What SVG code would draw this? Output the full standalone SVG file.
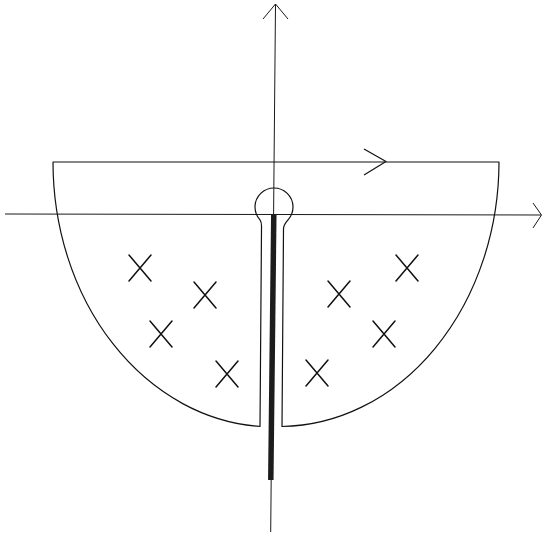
<svg xmlns="http://www.w3.org/2000/svg" width="542" height="534" viewBox="0 0 542 534">
<style>
.ax{fill:none;stroke:#1a1a1a;stroke-width:1}
.ol{fill:none;stroke:#111;stroke-width:1.2;stroke-linejoin:round}
.cr{fill:none;stroke:#111;stroke-width:1.5;stroke-linecap:round}
.cut{fill:none;stroke:#1c1c1c;stroke-width:5.5}
</style>
<rect width="542" height="534" fill="#fff"/>
<g id="axes">
<line class="ax" x1="5" y1="214" x2="541" y2="215"/>
<polyline class="ax" points="533,203 541.5,215 533,228"/>
<line class="ax" x1="275.5" y1="4" x2="270.7" y2="532"/>
<polyline class="ax" points="263,19 275.5,4 288,19"/>
</g>
<g id="contour">
<path class="ol" d="M 53 162 L 499 162 A 220 265 0 0 1 282 426.5 L 283.5 229 C 283.5 225 286 222.5 288 219.85 A 19 19 0 1 0 260 219.85 C 262 222.5 261.5 225 261.5 229 L 260 426.5 A 220 265 0 0 1 53 162 Z"/>
<polyline class="ol" points="364,149 386,161.5 364,175"/>
</g>
<g id="branch-cut">
<line class="cut" x1="273.8" y1="214" x2="270.8" y2="480"/>
</g>
<g id="poles">
<path class="cr" d="M129 255 L151 281 M151 255 L129 281"/>
<path class="cr" d="M194 282 L216 308 M216 282 L194 308"/>
<path class="cr" d="M150 321 L172 347 M172 321 L150 347"/>
<path class="cr" d="M216 361 L238 387 M238 361 L216 387"/>
<path class="cr" d="M396 255 L418 281 M418 255 L396 281"/>
<path class="cr" d="M328 281 L350 307 M350 281 L328 307"/>
<path class="cr" d="M373 321 L395 347 M395 321 L373 347"/>
<path class="cr" d="M306 360 L328 386 M328 360 L306 386"/>
</g>
</svg>
